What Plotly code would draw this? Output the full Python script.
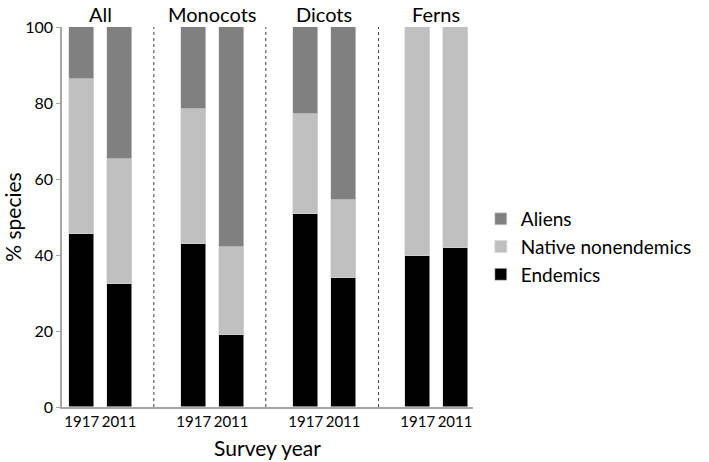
"""Stacked share of species by origin, 1917 vs 2011 surveys."""

import plotly.graph_objects as go

GROUPS = ["All", "Monocots", "Dicots", "Ferns"]
YEARS = ["1917", "2011"]

# percent of species per bar, order: All 1917, All 2011, Monocots 1917, ...
ENDEMICS = [45.4, 32.5, 42.8, 19.0, 50.9, 33.9, 39.7, 41.8]
NATIVE_NONENDEMICS = [40.8, 32.7, 35.7, 23.2, 26.3, 20.5, 60.3, 58.2]
ALIENS = [13.8, 34.8, 21.5, 57.8, 22.8, 45.6, 0.0, 0.0]

FONT = "Lato, 'Open Sans', sans-serif"
AXIS_GREY = "#a6a6a6"

# two bars per group, a gap of one slot between groups
x_pos = [g * 3 + i for g in range(len(GROUPS)) for i in range(len(YEARS))]
x_labels = [y for _ in GROUPS for y in YEARS]

fig = go.Figure()
series = [
    ("Endemics", ENDEMICS, "#000000"),
    ("Native nonendemics", NATIVE_NONENDEMICS, "#c0c0c0"),
    ("Aliens", ALIENS, "#808080"),
]
for name, values, color in series:
    fig.add_trace(
        go.Bar(
            x=x_pos,
            y=values,
            name=name,
            legendgroup=name,
            width=0.67,
            marker={"color": color, "line": {"color": "#d9d9d9", "width": 0.6}},
        )
    )

# dashed separators between the groups
for sep in [1.93, 4.93, 7.95]:
    fig.add_shape(
        type="line", x0=sep, x1=sep, y0=0, y1=100, xref="x", yref="y",
        line={"color": "#404040", "width": 1, "dash": "dot"},
    )

for g, label in enumerate(GROUPS):
    fig.add_annotation(
        x=g * 3 + 0.5, y=1, xref="x", yref="paper", text=label,
        showarrow=False, yanchor="top", yshift=27,
        font={"family": FONT, "size": 20, "color": "#000000"},
    )

fig.update_layout(
    width=709,
    height=462,
    barmode="stack",
    bargap=0,
    paper_bgcolor="white",
    plot_bgcolor="white",
    margin={"l": 62, "r": 206, "t": 27, "b": 55},
    font={"family": FONT, "color": "#000000"},
    legend={
        "traceorder": "reversed",
        "x": 1.019, "xanchor": "left", "y": 0.421, "yanchor": "middle",
        "font": {"family": FONT, "size": 19, "color": "#000000"},
        "itemwidth": 30,
        "tracegroupgap": 8,
    },
    showlegend=True,
)
fig.update_xaxes(
    range=[-0.53, 10.48],
    tickvals=x_pos,
    ticktext=x_labels,
    tickangle=0,
    tickfont={"family": FONT, "size": 15, "color": "#000000"},
    showline=True, linecolor=AXIS_GREY, linewidth=1.5,
    showgrid=False, zeroline=False, ticks="",
    automargin=False,
    title={"text": "Survey year", "font": {"family": FONT, "size": 21}, "standoff": 13},
)
fig.update_yaxes(
    range=[0, 100],
    tickvals=[0, 20, 40, 60, 80, 100],
    tickfont={"family": FONT, "size": 16, "color": "#000000"},
    showline=True, linecolor=AXIS_GREY, linewidth=1.5,
    ticks="outside", ticklen=4, tickcolor=AXIS_GREY,
    showgrid=False, zeroline=False,
    automargin=False,
    title={"text": "% species", "font": {"family": FONT, "size": 21}, "standoff": 8},
)

# drop the browser's default 8px body margin so the figure fills the window
fig.write_html(
    "out.html",
    config={"displayModeBar": False},
    post_script="document.body.style.margin = '0';",
)
